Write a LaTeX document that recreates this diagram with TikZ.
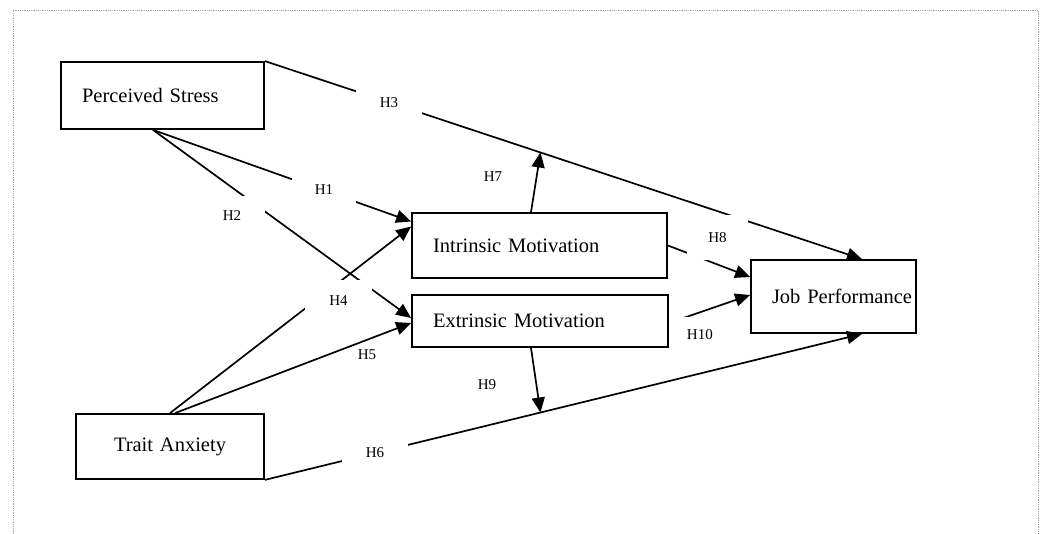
\documentclass[tikz,border=0pt]{standalone}
\usepackage{fontspec}
\setmainfont{Liberation Serif}
\usetikzlibrary{arrows.meta}
\begin{document}
\begin{tikzpicture}[x=1pt, y=-1pt,
  every node/.style={font=\fontsize{20.5pt}{24pt}\selectfont},
  box/.style={draw, line width=1.8pt, inner xsep=21pt, inner ysep=0pt, align=left},
  link/.style={line width=1.7pt, -{Triangle[length=15pt,width=13pt]}},
  hyp/.style={fill=white, inner sep=0pt, font=\fontsize{15pt}{17pt}\selectfont}]
\useasboundingbox (0,0) rectangle (1055,534);
\draw[densely dotted, gray!70, line width=0.8pt] (13,534) -- (13,10) -- (1038,10) -- (1038,534);
\node[box, text width=161pt, minimum height=67pt] (ps) at (162.5,95.5) {Perceived Stress};
\node[box, text width=146pt, minimum height=65pt, align=center] (ta) at (170,446.5) {Trait Anxiety};
\node[box, text width=213pt, minimum height=65pt] (im) at (539.5,245.5) {Intrinsic Motivation};
\node[box, text width=214pt, minimum height=52pt] (em) at (540,321) {Extrinsic Motivation};
\node[box, text width=123pt, minimum height=73pt] (jp) at (833.5,296.5) {\mbox{Job Performance}};
\draw[link] (ps.north east) -- coordinate[pos=0.4615] (m3) ([xshift=28.5pt]jp.north);
\draw[link] (ta.south east) -- coordinate[pos=0.4615] (m6) ([xshift=28.5pt]jp.south);
\draw[link] ([xshift=-9.5pt]ps.south) -- ([yshift=24pt]im.west);
\draw[link] ([xshift=-9.5pt]ps.south) -- ([yshift=3pt]em.west);
\draw[link] (ta.north) -- ([yshift=19pt]im.west);
\draw[link] ([xshift=5pt]ta.north) -- ([yshift=-2pt]em.west);
\draw[link] ([xshift=-8.5pt]im.north) -- (m3);
\draw[link] ([xshift=-9pt]em.south) -- (m6);
\draw[link] (im.east) -- ([yshift=19.5pt]jp.west);
\draw[link] ([yshift=-2pt]em.east) -- ([yshift=1.5pt]jp.west);
\node[hyp, minimum width=64pt, minimum height=30pt] (h1) at (324,190) {H1};
\node[hyp, minimum width=66pt, minimum height=40pt] (h2) at (232,216) {H2};
\node[hyp, minimum width=66pt, minimum height=26pt] (h3) at (389,103) {H3};
\node[hyp, minimum width=67pt, minimum height=42pt] (h4) at (338.5,301) {H4};
\node[hyp, inner sep=2pt] (h5) at (367,355) {H5};
\node[hyp, minimum width=66pt, minimum height=26pt] (h6) at (375,453) {H6};
\node[hyp, inner sep=2pt] (h7) at (493,177) {H7};
\node[hyp, minimum width=61pt, minimum height=45pt] (h8) at (717.5,237.5) {H8};
\node[hyp, inner sep=2pt] (h9) at (487,385) {H9};
\node[hyp, minimum width=62pt, minimum height=35pt] (h10) at (699.9,334.5) {H10};
\end{tikzpicture}
\end{document}
